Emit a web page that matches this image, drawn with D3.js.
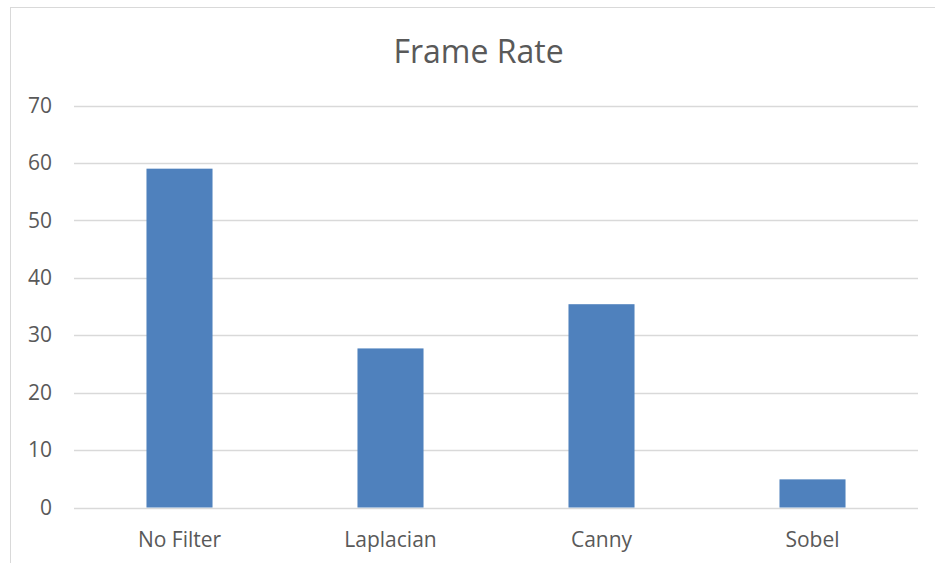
<!DOCTYPE html>
<html><head><meta charset="utf-8">
<script src="https://cdn.jsdelivr.net/npm/d3@7"></script>
<style>html,body{margin:0;padding:0;background:#fff}svg{display:block}</style>
</head><body>
<script>
const categories = ["No Filter", "Laplacian", "Canny", "Sobel"];
const frameRate = [59, 27.7, 35.4, 4.9];
const yTicks = [0, 10, 20, 30, 40, 50, 60, 70];
const title = "Frame Rate";

const W = 935, H = 563;
const svg = d3.select("body").append("svg").attr("width", W).attr("height", H);
const font = "'Open Sans', sans-serif";

// chart border (partly cropped)
svg.append("rect").attr("x", 10.5).attr("y", 7.5).attr("width", 940).attr("height", 600)
  .attr("fill", "none").attr("stroke", "#d9d9d9").attr("stroke-width", 1);

const m = {left: 74, right: 918, top: 105.5, bottom: 507.5};
const x = d3.scaleBand().domain(categories).range([m.left, m.right]).paddingInner(0.687).paddingOuter(0.3435);
const y = d3.scaleLinear().domain([0, 70]).range([m.bottom, m.top]);

// gridlines
svg.append("g").selectAll("line").data(yTicks).join("line")
  .attr("x1", m.left).attr("x2", m.right)
  .attr("y1", d => Math.round(y(d)) + 0.5).attr("y2", d => Math.round(y(d)) + 0.5)
  .attr("stroke", "#d9d9d9").attr("stroke-width", 1.3);

// y labels
const yAxis = d3.axisLeft(y).tickValues(yTicks).tickSize(0).tickPadding(22);
const ya = svg.append("g").attr("transform", `translate(${m.left},0)`).call(yAxis);
ya.select(".domain").remove();
ya.selectAll("text").attr("font-family", font).attr("font-size", 21).attr("fill", "#595959");

// bars
svg.append("g").selectAll("rect").data(frameRate).join("rect")
  .attr("x", (d, i) => x(categories[i])).attr("width", x.bandwidth())
  .attr("y", d => y(d)).attr("height", d => y(0) - y(d))
  .attr("fill", "#4f81bd");

// x labels
const xAxis = d3.axisBottom(x).tickSize(0).tickPadding(20);
const xa = svg.append("g").attr("transform", `translate(0,${m.bottom})`).call(xAxis);
xa.select(".domain").remove();
xa.selectAll("text").attr("font-family", font).attr("font-size", 21).attr("fill", "#595959")
  .attr("dy", null).attr("y", 39);

// title
svg.append("text").attr("x", 478.5).attr("y", 63)
  .attr("text-anchor", "middle").attr("font-family", font).attr("font-size", 32)
  .attr("fill", "#595959").text(title);
</script>
</body></html>
